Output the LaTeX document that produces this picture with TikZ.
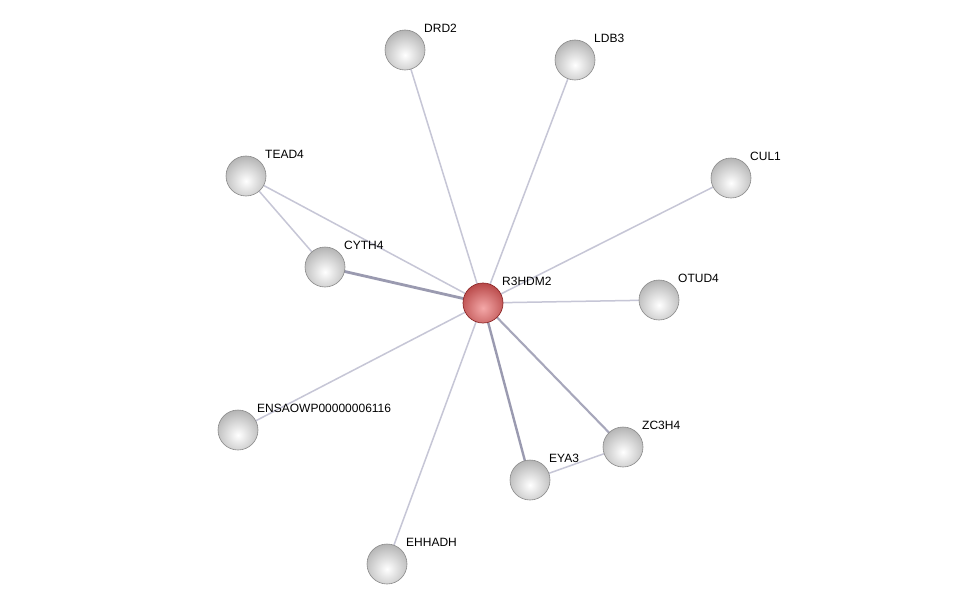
\documentclass[tikz,border=0pt]{standalone}
\usepackage{fontspec}
\setmainfont{Liberation Sans}
\begin{document}
\begin{tikzpicture}[x=1pt,y=-1pt,
  edge/.style={draw=edgecol,line width=1.5pt},
  ball/.style={circle,minimum size=40pt,inner sep=0pt,draw=ballrim,line width=0.6pt,
    path picture={\shade[inner color=white,outer color=ballout]
      ([yshift=-5pt]path picture bounding box.center) circle (25pt);}},
  redball/.style={circle,minimum size=40pt,inner sep=0pt,draw=redrim,line width=0.7pt,
    path picture={\shade[inner color=redin,outer color=redout]
      ([yshift=-5pt]path picture bounding box.center) circle (25pt);}},
  lab/.style={font=\fontsize{12}{14}\selectfont,anchor=west,inner sep=0pt}]
\definecolor{edgecol}{HTML}{C6C6D6}
\definecolor{edgedark}{HTML}{9A9AB0}
\definecolor{ballrim}{HTML}{8A8A8A}
\definecolor{ballout}{HTML}{B4B4B4}
\definecolor{redrim}{HTML}{8E2A2A}
\definecolor{redin}{HTML}{F4A8A8}
\definecolor{redout}{HTML}{B84848}
\useasboundingbox (0,0) rectangle (975,610);
\fill[white] (0,0) rectangle (975,610);
% node positions
\coordinate (pR) at (483,303);
\coordinate (pDRD2) at (405,50);
\coordinate (pLDB3) at (575,60);
\coordinate (pCUL1) at (731,178);
\coordinate (pTEAD4) at (246,176);
\coordinate (pCYTH4) at (325,267);
\coordinate (pOTUD4) at (659,300);
\coordinate (pENS) at (238,430);
\coordinate (pZC3H4) at (623,447);
\coordinate (pEYA3) at (530,480);
\coordinate (pEHHADH) at (387,564);
% edges
\draw[edge] (pR) -- (pDRD2);
\draw[edge] (pR) -- (pLDB3);
\draw[edge] (pR) -- (pCUL1);
\draw[edge] (pR) -- (pTEAD4);
\draw[edge] (pR) -- (pOTUD4);
\draw[edge] (pR) -- (pENS);
\draw[edge] (pR) -- (pEHHADH);
\draw[edge] (pTEAD4) -- (pCYTH4);
\draw[edge] (pEYA3) -- (pZC3H4);
\draw[edge,draw=edgedark!70!edgecol,line width=2.1pt] (pR) -- (pZC3H4);
\draw[edge,draw=edgedark,line width=2.4pt] (pR) -- (pEYA3);
\draw[edge,draw=edgedark,line width=2.8pt] (pR) -- (pCYTH4);
% nodes
\node[redball] (R3HDM2) at (pR) {};
\node[ball] (DRD2) at (pDRD2) {};
\node[ball] (LDB3) at (pLDB3) {};
\node[ball] (CUL1) at (pCUL1) {};
\node[ball] (TEAD4) at (pTEAD4) {};
\node[ball] (CYTH4) at (pCYTH4) {};
\node[ball] (OTUD4) at (pOTUD4) {};
\node[ball] (ENS) at (pENS) {};
\node[ball] (ZC3H4) at (pZC3H4) {};
\node[ball] (EYA3) at (pEYA3) {};
\node[ball] (EHHADH) at (pEHHADH) {};
% labels
\foreach \n/\t in {R3HDM2/R3HDM2,DRD2/DRD2,LDB3/LDB3,CUL1/CUL1,TEAD4/TEAD4,CYTH4/CYTH4,OTUD4/OTUD4,ENS/ENSAOWP00000006116,ZC3H4/ZC3H4,EYA3/EYA3,EHHADH/EHHADH}
  \node[lab] (l\n) at ([xshift=19pt,yshift=22pt]\n.center) {\t};
\end{tikzpicture}
\end{document}
